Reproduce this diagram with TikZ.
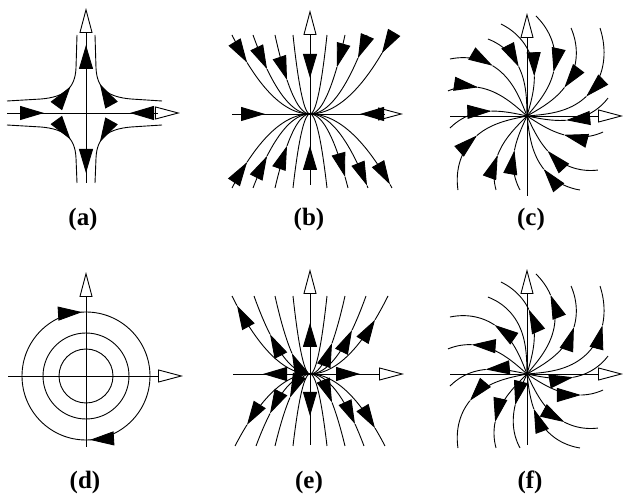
\documentclass[tikz,border=0pt]{standalone}
\usepackage{fontspec}
\setmainfont{Liberation Serif}
\usetikzlibrary{arrows.meta, decorations.markings}
\tikzset{tri/.tip={Triangle[length=24pt,width=14pt]}}

\begin{document}
\begin{tikzpicture}[x=1pt, y=-1pt, line width=0.9pt, variable=\u, samples=30,
    ax/.style={-{Triangle[length=25pt,width=13pt,fill=white]}},
    flowat/.style={postaction={decorate,decoration={markings,mark=at position #1 with {\arrow{tri}}}}},
    lab/.style={font=\bfseries\fontsize{25}{25}\selectfont}]
  \useasboundingbox (0,0) rectangle (625,497);
  % (a)
  \begin{scope}[shift={(86,113)}]
    \foreach \sx/\sy/\h/\v in {-1/-1/79/78, 1/-1/76/78, -1/1/79/70, 1/1/76/70}
      \draw[flowat=67pt] (\sx*\h,\sy*12) -- (\sx*45,\sy*14) .. controls (\sx*22,\sy*16) and (\sx*11,\sy*24) .. (\sx*10,\sy*45) -- (\sx*9,\sy*\v);
    \draw[ax] (0,70) -- (0,-105);
    \draw[ax] (-79,0) -- (94,0);
    \draw[-{tri}] (0,0) -- (0,-68);
    \draw[-{tri}] (0,0) -- (0,60);
    \draw[-{tri}] (-79,0) -- (-42,0);
    \draw[-{tri}] (72,0) -- (44,0);
  \end{scope}
  % (b)
  \begin{scope}[shift={(310,114)}]
    \foreach \a/\p in {-78/-63, -57/-43, -35/-23, 35/27, 57/48, 82/72} {
      \draw[-{tri}] plot[domain=\a:\p] (\u,{-79*(\u/\a)*(\u/\a)});
      \draw plot[domain=\p:0] (\u,{-79*(\u/\a)*(\u/\a)});
    }
    \foreach \a/\p in {-78/-63, -57/-43, -35/-23} {
      \draw[-{tri}] plot[domain=\a:\p] (\u,{74*(\u/\a)*(\u/\a)});
      \draw plot[domain=\p:0] (\u,{74*(\u/\a)*(\u/\a)});
    }
    \foreach \a/\p in {38/35, 58/57, 82/80} {
      \draw[-{tri}] plot[domain=0:\p] (\u,{74*(\u/\a)*(\u/\a)});
      \draw plot[domain=\p:\a] (\u,{74*(\u/\a)*(\u/\a)});
    }
    \foreach \a in {-17,17} {
      \draw plot[domain=\a:0] (\u,{-79*(\u/\a)*(\u/\a)});
      \draw plot[domain=\a:0] (\u,{74*(\u/\a)*(\u/\a)});
    }
    \draw[ax] (0,71) -- (0,-104);
    \draw[ax] (-78,0) -- (93,0);
    \draw[-{tri}] (0,-62) -- (0,-36);
    \draw[-{tri}] (0,71) -- (0,32);
    \draw[-{tri}] (-78,0) -- (-45,0);
    \draw[-{tri}] (74,0) -- (50,0);
  \end{scope}
  % (c)
  \begin{scope}[shift={(527,116)}]
    \foreach \ang/\len/\tip in {-143.5/95.8/61, -162.4/82.9/56.8, 171.1/77.9/36, 133/101.2/53.7,
        112.7/80.2/49, 95.4/74.3/36.7, 54.4/91/55.7, 37.3/89.2/40.6, 11.9/77.7/41.5, -12.5/83/39.5,
        -50.3/114.3/62.4, -63.4/98.4/47, -84.9/100.4/51.4, -105.8/95.6/40.4, -116.9/86.3/50.1} {
      \draw[-{tri}] plot[domain=\len:\tip] ({\ang+0.0035*(\len*\len-\u*\u)}:\u);
      \draw plot[domain=\tip:0] ({\ang+0.0035*(\len*\len-\u*\u)}:\u);
    }
    \draw[ax] (0,80) -- (0,-103);
    \draw[ax] (-77,0) -- (96,0);
  \end{scope}
  % (d)
  \begin{scope}[shift={(86,376)}]
    \draw (0,0) circle (27);
    \draw (0,0) circle (43);
    \draw[flowat=0.24, flowat=0.74] (0,0) circle (64);
    \draw[ax] (0,71) -- (0,-104);
    \draw[ax] (-78,0) -- (97,0);
  \end{scope}
  % (e)
  \begin{scope}[shift={(310,374)}]
    \foreach \a/\p in {-78/-73, -56/-40, -35/-18, 35/22, 56/42, 78/65} {
      \draw[-{tri}] plot[domain=0:\p] (\u,{-78*(\u/\a)*(\u/\a)});
      \draw plot[domain=\p:\a] (\u,{-78*(\u/\a)*(\u/\a)});
    }
    \foreach \a/\p in {-75/-63, -54/-40, -35/-20, 35/22, 54/45, 75/65} {
      \draw[-{tri}] plot[domain=0:\p] (\u,{72*(\u/\a)*(\u/\a)});
      \draw plot[domain=\p:\a] (\u,{72*(\u/\a)*(\u/\a)});
    }
    \foreach \a in {-17,17} {
      \draw plot[domain=\a:0] (\u,{-78*(\u/\a)*(\u/\a)});
      \draw plot[domain=\a:0] (\u,{72*(\u/\a)*(\u/\a)});
    }
    \draw[ax] (0,71) -- (0,-105);
    \draw[ax] (-77,0) -- (94,0);
    \draw[-{tri}] (0,0) -- (0,-51);
    \draw[-{tri}] (0,0) -- (0,42);
    \draw[-{tri}] (0,0) -- (-47,0);
    \draw[-{tri}] (0,0) -- (50,0);
  \end{scope}
  % (f)
  \begin{scope}[shift={(527,374)}]
    \foreach \ang/\len/\tip in {-143.5/95.8/58.7, -162.4/82.9/62.6, 171.1/77.9/41.5, 133/101.2/63,
        112.7/80.2/57.5, 95.4/74.3/33, 37.3/89.2/60.8, 11.9/77.7/57.9, -12.5/83/46.3,
        -50.3/114.3/89.8, -63.4/98.4/66.2, -84.9/100.4/82.5, -105.8/95.6/64.5} {
      \draw[-{tri}] plot[domain=0:\tip] ({\ang+0.0035*(\len*\len-\u*\u)}:\u);
      \draw plot[domain=\tip:\len] ({\ang+0.0035*(\len*\len-\u*\u)}:\u);
    }
    \draw[-{tri}] plot[domain=91:35.6] ({54.4+0.0035*(8281-\u*\u)}:\u);
    \draw plot[domain=35.6:0] ({54.4+0.0035*(8281-\u*\u)}:\u);
    \draw plot[domain=86.3:0] ({-116.9+0.0035*(7448-\u*\u)}:\u);
    \draw[ax] (0,71) -- (0,-105);
    \draw[ax] (-77,0) -- (96,0);
  \end{scope}
  % labels
  \node[lab] (la) at (83,219) {(a)};
  \node[lab] (lb) at (309,219) {(b)};
  \node[lab] (lc) at (531,219) {(c)};
  \node[lab] (ld) at (85,482) {(d)};
  \node[lab] (le) at (309,482) {(e)};
  \node[lab] (lf) at (530,482) {(f)};
\end{tikzpicture}
\end{document}
